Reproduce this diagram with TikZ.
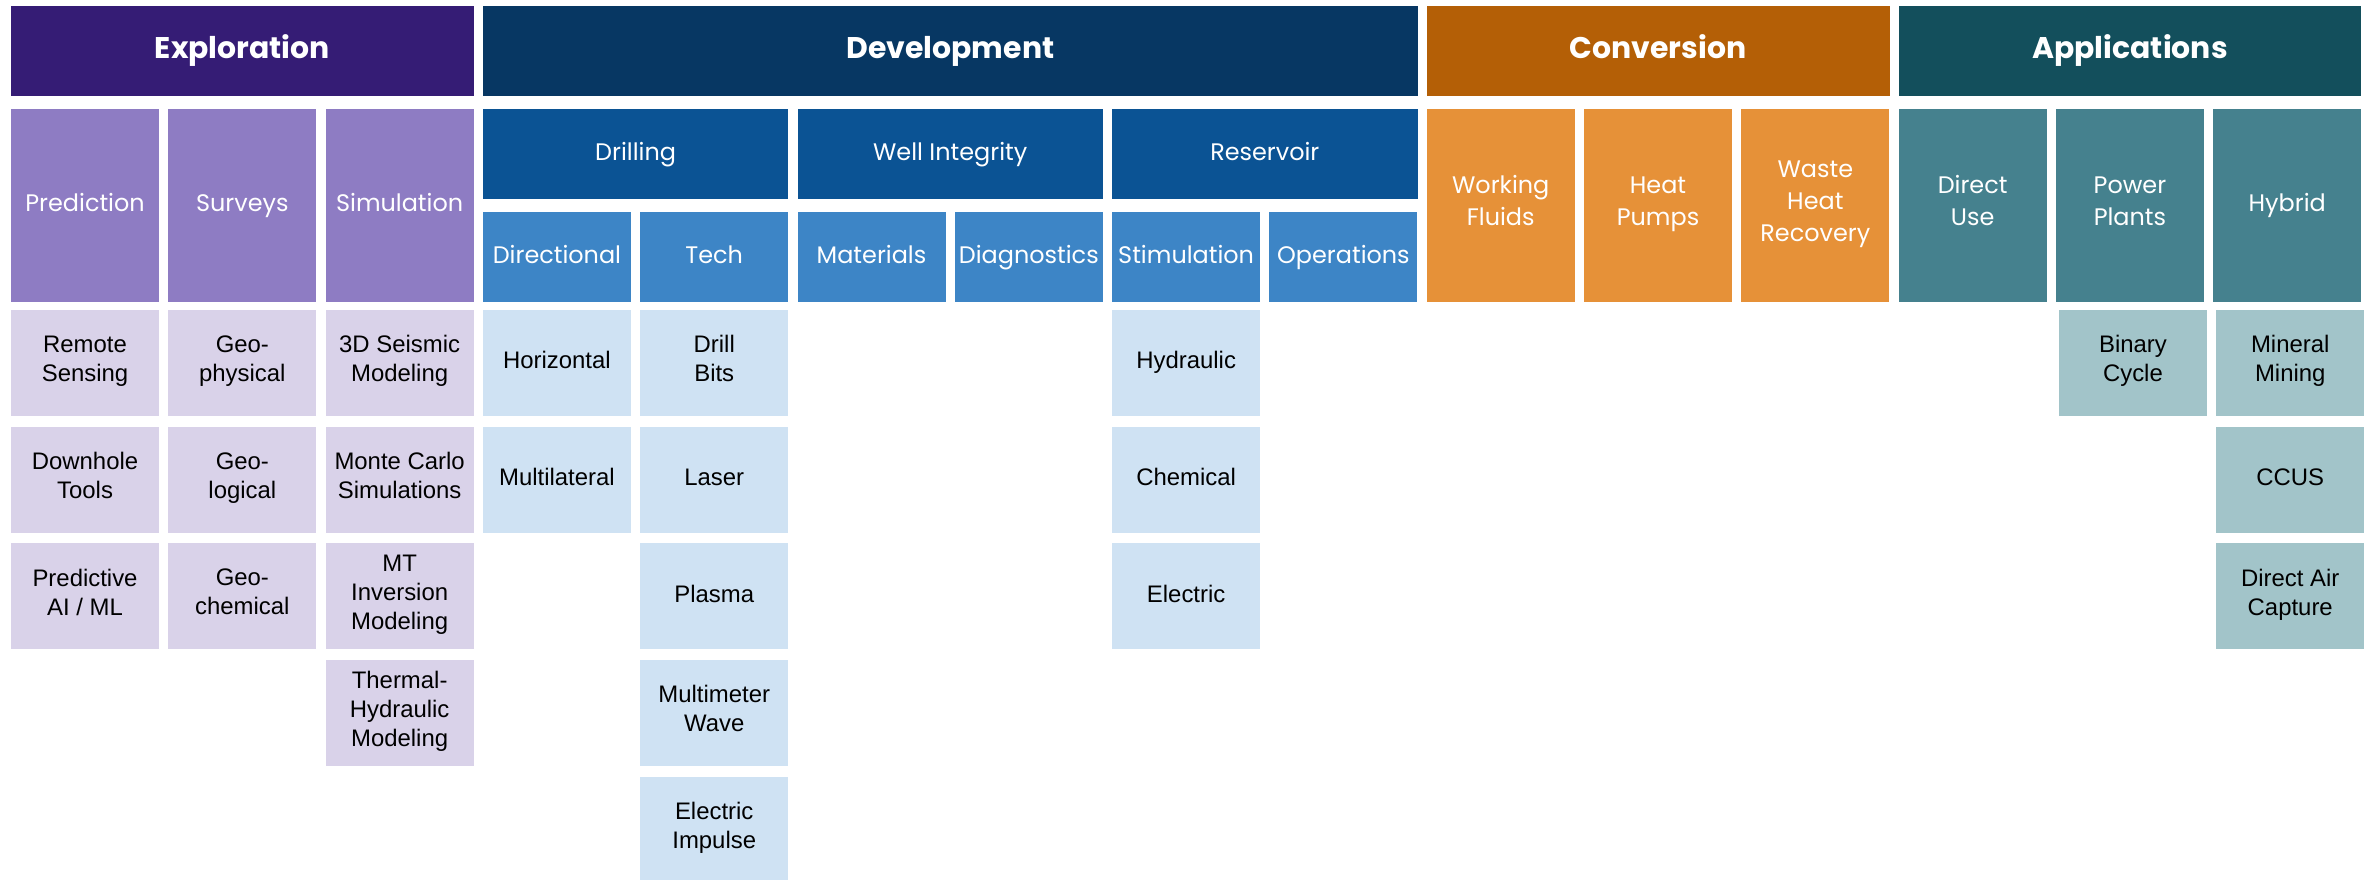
\documentclass[tikz,border=0pt]{standalone}
\usepackage{fontspec}
\setmainfont{Liberation Sans}
\newfontfamily\popfont{Poppins}

\definecolor{explHead}{HTML}{351C75}
\definecolor{explCat}{HTML}{8E7CC3}
\definecolor{explLeaf}{HTML}{D9D2E9}
\definecolor{devHead}{HTML}{073763}
\definecolor{devCat}{HTML}{0B5394}
\definecolor{devSub}{HTML}{3D85C6}
\definecolor{devLeaf}{HTML}{CFE2F3}
\definecolor{convHead}{HTML}{B45F06}
\definecolor{convCat}{HTML}{E69138}
\definecolor{appHead}{HTML}{134F5C}
\definecolor{appCat}{HTML}{45818E}
\definecolor{appLeaf}{HTML}{A2C4C9}

\begin{document}
\begin{tikzpicture}[x=0.01cm,y=-0.01cm,
	cell/.style={inner sep=0pt, outer sep=0pt, anchor=north west, align=center, minimum width=1.48cm,
		execute at begin node=\strut, execute at end node=\strut},
	head/.style={cell, minimum height=0.9cm, minimum width=4.626cm, text=white, font=\popfont\bfseries\fontsize{8.5}{10}\selectfont},
	cat/.style={cell, minimum height=1.93cm, text=white, font=\popfont\fontsize{6.8}{9.1}\selectfont},
	half/.style={cell, minimum height=0.9cm, text=white, font=\popfont\fontsize{6.8}{9.1}\selectfont},
	leaf/.style={cell, minimum height=1.06cm, text=black, font=\fontsize{6.8}{8.3}\selectfont}]
	
	\useasboundingbox (0,0) rectangle (2371,880);
	
	%------------------------------
	% Top row: the four stages
	%------------------------------
	\node[head, fill=explHead] (expl) at (11,6) {Exploration};
	\node[head, fill=devHead, minimum width=9.345cm] (dev) at (482.9,6) {Development};
	\node[head, fill=convHead] (conv) at (1426.7,6) {Conversion};
	\node[head, fill=appHead] (app) at (1898.6,6) {Applications};
	
	%------------------------------
	% Exploration
	%------------------------------
	\node[cat, fill=explCat] (pred) at (11,109) {Prediction};
	\node[cat, fill=explCat] (surv) at (168.3,109) {Surveys};
	\node[cat, fill=explCat] (sim) at (325.6,109) {Simulation};
	
	\foreach \lbl [count=\k] in {{Remote\\Sensing},{Downhole\\Tools},{Predictive\\AI / ML}}
	\node[leaf, fill=explLeaf] (pred-\k) at (11,{310+(\k-1)*116.7}) {\lbl};
	\foreach \lbl [count=\k] in {{Geo-\\physical},{Geo-\\logical},{Geo-\\chemical}}
	\node[leaf, fill=explLeaf] (surv-\k) at (168.3,{310+(\k-1)*116.7}) {\lbl};
	\foreach \lbl [count=\k] in {{3D Seismic\\Modeling},{Monte Carlo\\Simulations},{MT\\Inversion\\Modeling},{Thermal-\\Hydraulic\\Modeling}}
	\node[leaf, fill=explLeaf] (sim-\k) at (325.6,{310+(\k-1)*116.7}) {\lbl};
	
	%------------------------------
	% Development
	%------------------------------
	\node[half, fill=devCat, minimum width=3.053cm] (drill) at (482.9,109) {Drilling};
	\node[half, fill=devCat, minimum width=3.053cm] (well) at (797.5,109) {Well Integrity};
	\node[half, fill=devCat, minimum width=3.053cm] (res) at (1112.1,109) {Reservoir};
	
	\node[half, fill=devSub] (dir) at (482.9,212) {Directional};
	\node[half, fill=devSub] (tech) at (640.2,212) {Tech};
	\node[half, fill=devSub] (mat) at (797.5,212) {Materials};
	\node[half, fill=devSub] (diag) at (954.8,212) {Diagnostics};
	\node[half, fill=devSub] (stim) at (1112.1,212) {Stimulation};
	\node[half, fill=devSub] (ops) at (1269.4,212) {Operations};
	
	\foreach \lbl [count=\k] in {Horizontal,Multilateral}
	\node[leaf, fill=devLeaf] (dir-\k) at (482.9,{310+(\k-1)*116.7}) {\lbl};
	\foreach \lbl [count=\k] in {{Drill\\Bits},Laser,Plasma,{Multimeter\\Wave},{Electric\\Impulse}}
	\node[leaf, fill=devLeaf] (tech-\k) at (640.2,{310+(\k-1)*116.7}) {\lbl};
	\foreach \lbl [count=\k] in {Hydraulic,Chemical,Electric}
	\node[leaf, fill=devLeaf] (stim-\k) at (1112.1,{310+(\k-1)*116.7}) {\lbl};
	
	%------------------------------
	% Conversion
	%------------------------------
	\node[cat, fill=convCat] (wf) at (1426.7,109) {Working\\Fluids};
	\node[cat, fill=convCat] (hp) at (1584,109) {Heat\\Pumps};
	\node[cat, fill=convCat] (whr) at (1741.3,109) {Waste\\Heat\\Recovery};
	
	%------------------------------
	% Applications
	%------------------------------
	\node[cat, fill=appCat] (du) at (1898.6,109) {Direct\\Use};
	\node[cat, fill=appCat] (pp) at (2055.9,109) {Power\\Plants};
	\node[cat, fill=appCat] (hyb) at (2213.2,109) {Hybrid};
	
	\node[leaf, fill=appLeaf] (pp-1) at (2058.9,310) {Binary\\Cycle};
	\foreach \lbl [count=\k] in {{Mineral\\Mining},CCUS,{Direct Air\\Capture}}
	\node[leaf, fill=appLeaf] (hyb-\k) at (2216.2,{310+(\k-1)*116.7}) {\lbl};
	
\end{tikzpicture}
\end{document}
